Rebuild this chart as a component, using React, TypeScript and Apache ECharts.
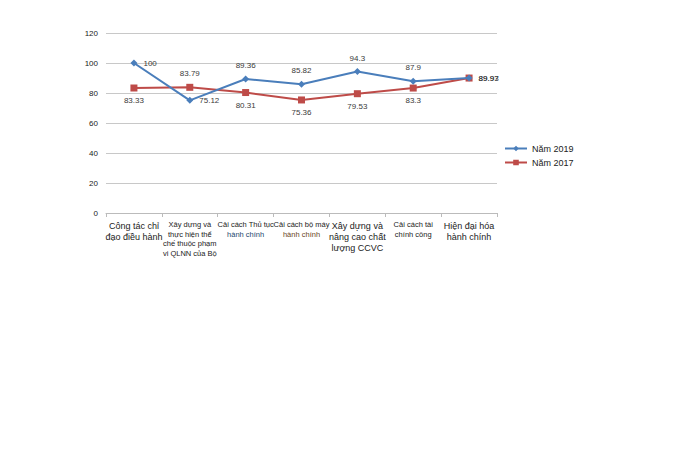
import React, { useEffect, useRef } from "react";
import * as echarts from "echarts";

const categories = [
  "Công tác chỉ\nđạo điều hành",
  "Xây dựng và\nthực hiện thể\nchế thuộc phạm\nvi QLNN của Bộ",
  "Cải cách Thủ tục\nhành chính",
  "Cải cách bộ máy\nhành chính",
  "Xây dựng và\nnâng cao chất\nlượng CCVC",
  "Cải cách tài\nchính công",
  "Hiện đại hóa\nhành chính",
];
const labelStyles = ["big", "small", "small", "small", "big", "small", "big"];
const values2019 = [100, 75.12, 89.36, 85.82, 94.3, 87.9, 89.93];
const values2017 = [83.33, 83.79, 80.31, 75.36, 79.53, 83.3, 89.97];
const pos2019 = ["right", "right", "top", "top", "top", "top", "right"];
const pos2017 = ["bottom", "top", "bottom", "bottom", "bottom", "bottom", "right"];
const yTicks = [0, 20, 40, 60, 80, 100, 120];

export default function App() {
  const ref = useRef<HTMLDivElement>(null);
  useEffect(() => {
    document.body.style.margin = "0";
    const chart = echarts.init(ref.current!, null, { renderer: "svg" });
    const font = "'Liberation Sans', Arial, sans-serif";
    const dist: Record<string, number> = { right: 6, top: 6, bottom: 5 };
    const mk = (vals: number[], pos: string[]) =>
      vals.map((v, i) => ({
        value: v,
        label: { show: true, position: pos[i] as any, distance: dist[pos[i]] },
      }));
    chart.setOption({
      animation: false,
      textStyle: { fontFamily: font },
      grid: { left: 106, right: 183, top: 33, bottom: 239 },
      legend: {
        orient: "vertical",
        left: 499,
        top: 139,
        itemWidth: 22,
        itemHeight: 7,
        itemGap: 5,
        textStyle: { fontSize: 9, color: "#222", fontFamily: font },
        data: ["Năm 2019", "Năm 2017"],
      },
      xAxis: {
        type: "category",
        data: categories,
        boundaryGap: true,
        axisLine: { lineStyle: { color: "#bbb" } },
        axisTick: { show: true, interval: 0, length: 4, lineStyle: { color: "#bbb" } },
        axisLabel: {
          interval: 0,
          margin: 7,
          formatter: (val: string, idx: number) =>
            val
              .split("\n")
              .map((l, li) => {
                let s = labelStyles[idx];
                if (idx === 2 && li === 1) s = "blue";
                if (idx === 3 && li === 1) s = "brown";
                return `{${s}|${l}}`;
              })
              .join("\n"),
          rich: {
            big: { fontSize: 9, lineHeight: 11, color: "#222", fontFamily: font },
            small: { fontSize: 7.5, lineHeight: 9.5, color: "#222", fontFamily: font },
            blue: { fontSize: 7.5, lineHeight: 9.5, color: "#24466e", fontFamily: font },
            brown: { fontSize: 7.5, lineHeight: 9.5, color: "#6a4424", fontFamily: font },
          },
        },
      },
      yAxis: {
        type: "value",
        min: yTicks[0],
        max: yTicks[yTicks.length - 1],
        interval: 20,
        axisLine: { show: false },
        axisTick: { show: false },
        splitLine: { lineStyle: { color: "#c8c8c8" } },
        axisLabel: { fontSize: 8, color: "#222", margin: 8 },
      },
      series: [
        {
          name: "Năm 2019",
          type: "line",
          data: mk(values2019, pos2019),
          symbol: "diamond",
          symbolSize: 7,
          itemStyle: { color: "#4a7ebb" },
          lineStyle: { color: "#4a7ebb", width: 2 },
          label: { fontSize: 8, color: "#3a3a3a", fontFamily: font },
          z: 3,
        },
        {
          name: "Năm 2017",
          type: "line",
          data: mk(values2017, pos2017),
          symbol: "rect",
          symbolSize: 7,
          itemStyle: { color: "#be4b48" },
          lineStyle: { color: "#be4b48", width: 2 },
          label: { fontSize: 8, color: "#3a3a3a", fontFamily: font },
          z: 2,
        },
      ],
    });
    return () => chart.dispose();
  }, []);
  return <div ref={ref} style={{ width: 680, height: 452 }} />;
}
